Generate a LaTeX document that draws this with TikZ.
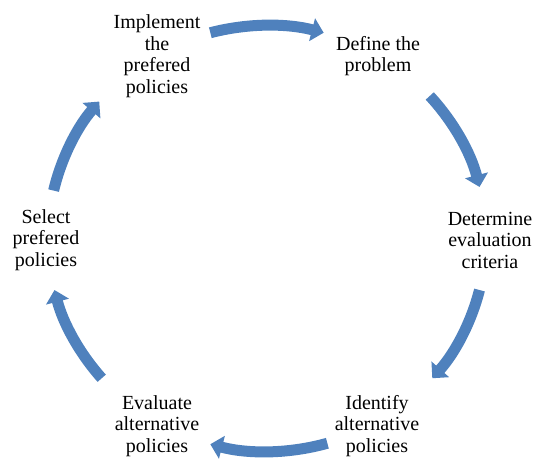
\documentclass[tikz,border=0pt]{standalone}
\usepackage{fontspec}
\setmainfont{Liberation Serif}
\newfontfamily\labfont{Liberation Serif}
\usetikzlibrary{arrows.meta}
\definecolor{arcblue}{HTML}{4F81BD}
\tikzset{
  lbl/.style={align=center, font=\labfont\fontsize{20}{21.5}\selectfont, text=black, inner sep=0pt},
  blockarc/.style={draw=arcblue, line width=11pt, -{Triangle[width=23pt,length=12pt]}}
}
\begin{document}
\begin{tikzpicture}[x=1pt,y=1pt]
\useasboundingbox (0,0) rectangle (535,-462);
% labels
\node[lbl] (impl) at (157,-56) {Implement\\the\\prefered\\policies};
\node[lbl] (def)  at (378,-56) {Define the\\problem};
\node[lbl] (det)  at (490,-240) {Determine\\evaluation\\criteria};
\node[lbl] (ident) at (377,-426) {Identify\\alternative\\policies};
\node[lbl] (eval) at (157,-426) {Evaluate\\alternative\\policies};
\node[lbl] (sel)  at (46,-240) {Select\\prefered\\policies};
% arcs
\coordinate (c) at (267,-238.5);
\begin{scope}[shift={(c)}]
\draw[blockarc] (105:219 and 213) arc[start angle=105, end angle=75, x radius=219, y radius=213];
\draw[blockarc] (42:219 and 213) arc[start angle=42, end angle=14, x radius=219, y radius=213];
\draw[blockarc] (-14:219 and 213) arc[start angle=-14, end angle=-41, x radius=219, y radius=213];
\draw[blockarc] (-74:219 and 213) arc[start angle=-74, end angle=-105, x radius=219, y radius=213];
\draw[blockarc] (-139:219 and 213) arc[start angle=-139, end angle=-166, x radius=219, y radius=213];
\draw[blockarc] (167:219 and 213) arc[start angle=167, end angle=140, x radius=219, y radius=213];
\end{scope}
\end{tikzpicture}
\end{document}
